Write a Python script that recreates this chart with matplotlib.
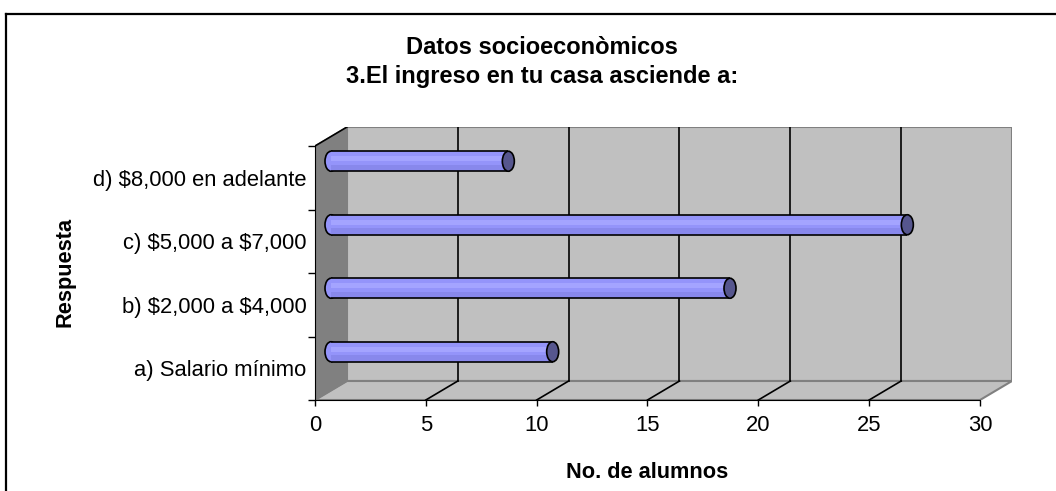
import matplotlib
matplotlib.use('Agg')
import matplotlib.pyplot as plt
import numpy as np
from matplotlib.patches import Polygon, Ellipse
from matplotlib.lines import Line2D

categorias = ['a) Salario mínimo', 'b) $2,000 a $4,000',
              'c) $5,000 a $7,000', 'd) $8,000 en adelante']
alumnos = [10, 18, 26, 8]
x_ticks = [0, 5, 10, 15, 20, 25, 30]

plt.rcParams['font.family'] = ['Liberation Sans', 'DejaVu Sans']
plt.rcParams['text.parse_math'] = False

W, H = 1056, 491
fig = plt.figure(figsize=(W / 100, H / 100), dpi=100)

# front plane of the 3d box, in pixels
x0_px, x1_px = 315, 980
y0_px, y1_px = 400, 146
depth_x, depth_y = 32, 19
xmax = x_ticks[-1]
ncat = len(categorias)
ppu_x = (x1_px - x0_px) / xmax
ppu_y = (y0_px - y1_px) / ncat
dx = depth_x / ppu_x
dy = depth_y / ppu_y

ax = fig.add_axes([x0_px / W, (H - y0_px) / H,
                   (x1_px - x0_px + depth_x) / W, (y0_px - y1_px + depth_y) / H])
ax.set_xlim(0, xmax + dx)
ax.set_ylim(0, ncat + dy)
ax.patch.set_visible(False)

# walls and floor
ax.add_patch(Polygon([(dx, dy), (xmax + dx, dy), (xmax + dx, ncat + dy), (dx, ncat + dy)],
                     closed=True, fc='#C0C0C0', ec='#808080', lw=1.5, zorder=0))
ax.add_patch(Polygon([(0, 0), (xmax, 0), (xmax + dx, dy), (dx, dy)],
                     closed=True, fc='#C0C0C0', ec='#808080', lw=1.5, zorder=0))
ax.add_patch(Polygon([(0, 0), (dx, dy), (dx, ncat + dy), (0, ncat)],
                     closed=True, fc='#808080', ec='#808080', lw=1, zorder=1))
ax.plot([0, dx], [ncat, ncat + dy], color='black', lw=1.2, zorder=2)
for t in x_ticks[1:-1]:
    ax.plot([t + dx, t + dx], [dy, ncat + dy], color='black', lw=1.2, zorder=1)
    ax.plot([t, t + dx], [0, dy], color='black', lw=1.2, zorder=1)

# cylinders
yc = np.arange(ncat) + 0.5 + 0.26
bh = 20 / ppu_y
cap_w = 12 / ppu_x
bx = dx / 2
for y, v in zip(yc, alumnos):
    ax.add_patch(Ellipse((bx, y), cap_w, bh, fc='#9494FA', ec='black', lw=1.2, zorder=3))
ax.barh(yc, alumnos, height=bh, left=bx, color='#9494FA', zorder=4)
ax.barh(yc + bh * 0.12, alumnos, height=bh * 0.25, left=bx, color='#A4A4FF', zorder=4)
ax.barh(yc - bh * 0.33, alumnos, height=bh * 0.3, left=bx, color='#8888EC', zorder=4)
ax.hlines(yc + bh / 2, bx, bx + np.array(alumnos), color='black', lw=1.2, zorder=5)
ax.hlines(yc - bh / 2, bx, bx + np.array(alumnos), color='black', lw=1.2, zorder=5)
for y, v in zip(yc, alumnos):
    ax.add_patch(Ellipse((bx + v, y), cap_w, bh, fc='#56568E', ec='black', lw=1.2, zorder=6))

# axes
for s in ['top', 'right']:
    ax.spines[s].set_visible(False)
ax.spines['left'].set_bounds(0, ncat)
ax.spines['bottom'].set_bounds(0, xmax)
ax.spines['left'].set_zorder(2)
ax.spines['bottom'].set_zorder(2)
ax.set_xticks(x_ticks)
ax.set_xticklabels([str(t) for t in x_ticks])
ax.set_yticks(range(ncat + 1))
ax.set_yticklabels([])
ax.set_yticks(np.arange(ncat) + 0.5, minor=True)
ax.set_yticklabels(categorias, minor=True)
ax.tick_params(axis='y', which='major', direction='out', length=5, width=1)
ax.tick_params(axis='y', which='minor', length=0, pad=6, labelsize=15.8)
ax.tick_params(axis='x', direction='out', length=4, width=1, pad=7, labelsize=15.8)

fig.text(542 / W, 1 - 47 / H, 'Datos socioeconòmicos', ha='center', va='center',
         fontsize=17, fontweight='bold')
fig.text(542 / W, 1 - 77 / H, '3.El ingreso en tu casa asciende a:', ha='center', va='center',
         fontsize=17, fontweight='bold')
fig.text(647 / W, 1 - 472 / H, 'No. de alumnos', ha='center', va='center',
         fontsize=15.7, fontweight='bold')
fig.text(65 / W, 1 - 272 / H, 'Respuesta', ha='center', va='center', rotation=90,
         fontsize=15.7, fontweight='bold')

# chart area border (left and top only visible)
fig.add_artist(Line2D([6 / W, 6 / W], [0, 1 - 14 / H], color='black', lw=1.6))
fig.add_artist(Line2D([6 / W, 1], [1 - 14 / H, 1 - 14 / H], color='black', lw=1.6))

fig.savefig('out.png', dpi=100)
